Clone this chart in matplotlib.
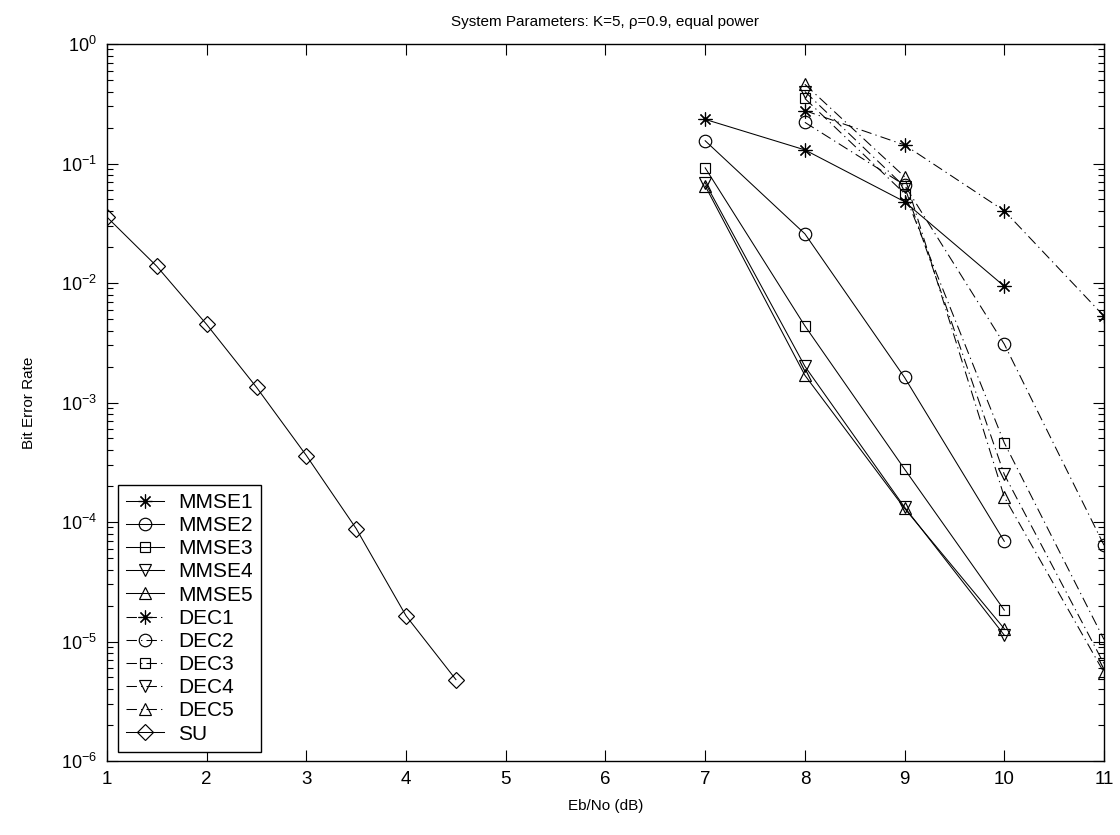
import matplotlib
matplotlib.use("Agg")
import matplotlib.pyplot as plt
from matplotlib.ticker import FixedLocator, LogLocator, NullFormatter

plt.rcParams['font.family'] = ['Liberation Sans', 'DejaVu Sans']
plt.rcParams['mathtext.fontset'] = 'custom'
plt.rcParams['mathtext.rm'] = 'Liberation Sans'
plt.rcParams['mathtext.it'] = 'Liberation Sans:italic'
plt.rcParams['mathtext.bf'] = 'Liberation Sans:bold'

# Eb/No grids (dB)
ebno_su = [1.0, 1.5, 2.0, 2.5, 3.0, 3.5, 4.0, 4.5]
ebno_mmse = [7, 8, 9, 10]
ebno_dec = [8, 9, 10, 11]

# Bit error rates
ber_su = [0.0356, 0.0138, 0.0045, 0.00134, 3.6e-4, 8.8e-5, 1.64e-5, 4.8e-6]

ber_mmse1 = [0.234, 0.130, 0.0479, 0.0094]
ber_mmse2 = [0.155, 0.0258, 0.00162, 6.9e-5]
ber_mmse3 = [0.092, 0.00438, 2.77e-4, 1.83e-5]
ber_mmse4 = [0.069, 0.00201, 1.33e-4, 1.13e-5]
ber_mmse5 = [0.065, 0.00169, 1.30e-4, 1.28e-5]

ber_dec1 = [0.277, 0.143, 0.0402, 0.00528]
ber_dec2 = [0.221, 0.066, 0.00308, 6.4e-5]
ber_dec3 = [0.35, 0.056, 4.6e-4, 1.04e-5]
ber_dec4 = [0.40, 0.064, 2.5e-4, 6.5e-6]
ber_dec5 = [0.46, 0.0775, 1.62e-4, 5.5e-6]

mmse_labels = ['MMSE1', 'MMSE2', 'MMSE3', 'MMSE4', 'MMSE5']
dec_labels = ['DEC1', 'DEC2', 'DEC3', 'DEC4', 'DEC5']
x_ticks = [1, 2, 3, 4, 5, 6, 7, 8, 9, 10, 11]
y_ticks = [1e-6, 1e-5, 1e-4, 1e-3, 1e-2, 1e-1, 1e0]

asterisk = (8, 2, 0)
markers = [asterisk, 'o', 's', 'v', '^']
msizes = [10, 9, 7.6, 8.5, 8.5]

fig = plt.figure(figsize=(11.2, 8.35), dpi=100)
ax = fig.add_axes([0.0955, 0.0886, 0.8902, 0.8587])

lw = 0.75
common = dict(color='black', linewidth=lw, markerfacecolor='none',
              markeredgecolor='black', markeredgewidth=0.85)

mmse_series = [ber_mmse1, ber_mmse2, ber_mmse3, ber_mmse4, ber_mmse5]
dec_series = [ber_dec1, ber_dec2, ber_dec3, ber_dec4, ber_dec5]

for vals, lab, mk, ms in zip(mmse_series, mmse_labels, markers, msizes):
    ax.semilogy(ebno_mmse, vals, linestyle='-', marker=mk, markersize=ms,
                label=lab, **common)

for vals, lab, mk, ms in zip(dec_series, dec_labels, markers, msizes):
    ln, = ax.semilogy(ebno_dec, vals, marker=mk, markersize=ms,
                      label=lab, **common)
    ln.set_dashes((10, 4, 1.2, 4))

ax.semilogy(ebno_su, ber_su, linestyle='-', marker='D', markersize=8,
            label='SU', **common)

ax.set_xlim(1, 11)
ax.set_ylim(1e-6, 1)
ax.set_xticks(x_ticks)
ax.set_xticklabels([str(t) for t in x_ticks])
ax.yaxis.set_major_locator(FixedLocator(y_ticks))
ax.yaxis.set_minor_locator(LogLocator(base=10, subs=range(2, 10), numticks=20))
ax.yaxis.set_minor_formatter(NullFormatter())

ax.tick_params(which='both', direction='in', top=True, right=True,
               width=0.8, colors='black')
ax.tick_params(which='major', length=8, pad=7)
ax.tick_params(axis='x', which='major', labelsize=13.5)
ax.tick_params(axis='y', which='major', labelsize=13)
ax.tick_params(which='minor', length=4)
for sp in ax.spines.values():
    sp.set_linewidth(1.0)
    sp.set_color('black')

ax.set_title('System Parameters: K=5, \u03c1=0.9, equal power', fontsize=11, pad=13)
ax.set_xlabel('Eb/No (dB)', fontsize=11, labelpad=8)
ax.set_ylabel('Bit Error Rate', fontsize=11, labelpad=18)

leg = ax.legend(loc='lower left', bbox_to_anchor=(0.011, 0.0126),
                borderaxespad=0, fontsize=15, fancybox=False, framealpha=1,
                edgecolor='black', handlelength=1.8, handletextpad=0.7,
                labelspacing=0.2, borderpad=0.4)
leg.get_frame().set_linewidth(1.0)

fig.savefig('out.png', dpi=100, facecolor='white')
